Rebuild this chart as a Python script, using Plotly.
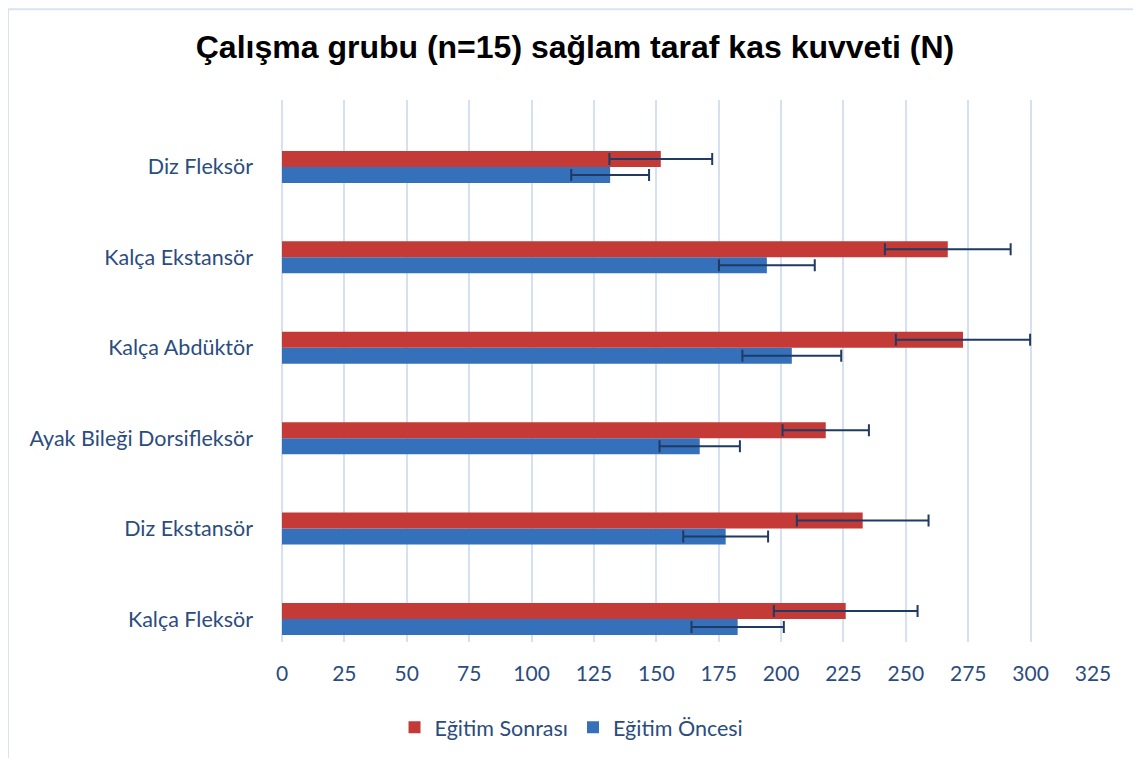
import plotly.graph_objects as go

categories = ["Kalça Fleksör", "Diz Ekstansör", "Ayak Bileği Dorsifleksör",
              "Kalça Abdüktör", "Kalça Ekstansör", "Diz Fleksör"]
once = [182.6, 177.8, 167.4, 204.3, 194.3, 131.5]
once_sd = [18.5, 17.0, 16.1, 19.8, 19.2, 15.6]
sonra = [225.9, 232.7, 217.9, 272.9, 266.8, 151.8]
sonra_sd = [28.8, 26.4, 17.3, 26.9, 25.2, 20.6]
x_ticks = list(range(0, 326, 25))

label_color = "#2B4C7E"
err_color = "#1F3A63"
font_fam = "Lato, 'Open Sans', sans-serif"

fig = go.Figure()
fig.add_trace(go.Bar(
    y=categories, x=once, orientation="h", name="Eğitim Öncesi",
    marker=dict(color="#3570BA", line=dict(width=0)),
    error_x=dict(type="data", array=once_sd, visible=True, color=err_color,
                 thickness=2, width=6),
))
fig.add_trace(go.Bar(
    y=categories, x=sonra, orientation="h", name="Eğitim Sonrası",
    marker=dict(color="#C43A37", line=dict(width=0)),
    error_x=dict(type="data", array=sonra_sd, visible=True, color=err_color,
                 thickness=2, width=6),
))

fig.update_layout(
    width=1133, height=750,
    margin=dict(l=274, r=48, t=92, b=115),
    paper_bgcolor="white", plot_bgcolor="white",
    barmode="group", bargap=0.646, bargroupgap=0,
    title=dict(text="<b>Çalışma grubu (n=15) sağlam taraf kas kuvveti (N)</b>",
               x=(575 - 8) / 1133, y=1 - (47 - 8) / 750, xanchor="center", yanchor="middle",
               font=dict(family="'Liberation Sans', Arial, sans-serif", size=32, color="black")),
    xaxis=dict(range=[0, 325], tickvals=x_ticks, showgrid=True, gridcolor="#D5E1F1",
               gridwidth=1.5, zeroline=True, zerolinecolor="#D5E1F1", zerolinewidth=1.5,
               showline=False, ticks="", ticklabelstandoff=17,
               tickfont=dict(family=font_fam, size=21, color=label_color)),
    yaxis=dict(categoryorder="array", categoryarray=categories, showgrid=False,
               range=[-0.254, 5.74],
               zeroline=False, showline=False, ticks="", ticklabelstandoff=28,
               tickfont=dict(family=font_fam, size=21.5, color=label_color)),
    legend=dict(orientation="h", x=0.357, y=-0.155, xanchor="center", yanchor="middle",
                traceorder="reversed", font=dict(family=font_fam, size=21.5, color=label_color),
                itemwidth=30),
    showlegend=True,
    shapes=[dict(type="rect", xref="paper", yref="paper",
                 x0=(8 - 282) / 811, x1=(1150 - 282) / 811,
                 y0=(643 - 770) / 543, y1=(643 - 9) / 543,
                 line=dict(color="#D9E3EF", width=2), fillcolor="rgba(0,0,0,0)",
                 layer="below")],
)

fig.write_html("out.html")
